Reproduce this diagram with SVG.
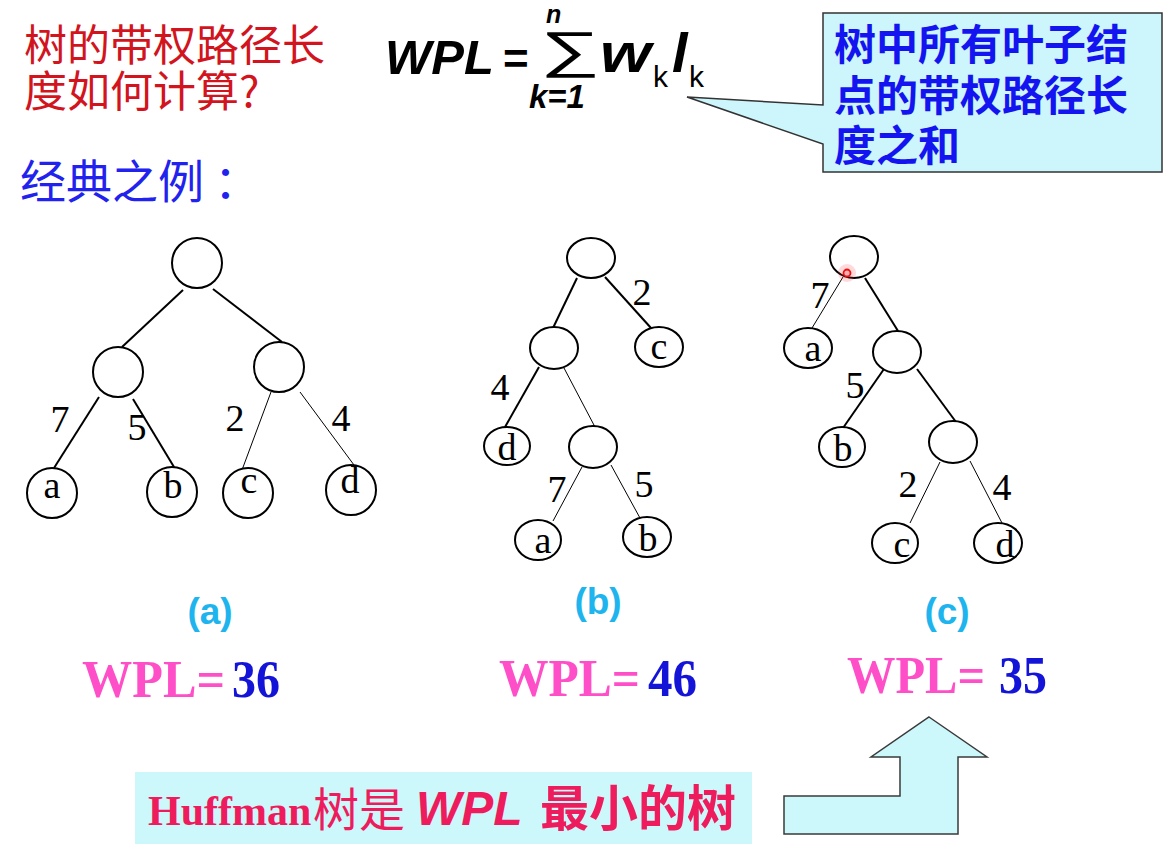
<svg xmlns="http://www.w3.org/2000/svg" width="1174" height="859" viewBox="0 0 1174 859">
<style>
.node{fill:#fff;stroke:#000;stroke-width:2}
.e{stroke:#000;stroke-width:2;fill:none}
.t{stroke:#000;stroke-width:1;fill:none}
.lbl{font-family:"Liberation Serif",serif;font-size:38px;fill:#000;text-anchor:middle}
.cap{font-family:"Liberation Sans",Arial,sans-serif;font-weight:bold;font-size:37px;fill:#1EB4EE;text-anchor:middle}
.wpl{font-family:"Liberation Serif",serif;font-weight:bold;font-size:52px;fill:#FF4FC8}
.num{font-family:"Liberation Serif",serif;font-weight:bold;font-size:52px;fill:#1414D8}
.fx{font-family:"Liberation Sans",Arial,sans-serif;font-weight:bold;font-style:italic;fill:#000}
.cjk{font-family:"Noto Sans CJK SC",sans-serif}
</style>
<rect width="1174" height="859" fill="#fff"/>

<g id="title">
<text class="cjk" x="24" y="61" font-size="43" fill="#D2141E">树的带权路径长</text>
<text class="cjk" x="24" y="107" font-size="43" fill="#D2141E">度如何计算?</text>
</g>
<g id="example-label">
<text class="cjk" x="20" y="198" font-size="46" fill="#2222EE">经典之例<tspan x="214">：</tspan></text>
</g>

<g id="formula">
<text class="fx" x="385" y="74" font-size="49">WPL</text>
<text x="503" y="74" font-family="Liberation Sans,Arial,sans-serif" font-weight="bold" font-size="44" fill="#000">=</text>
<text transform="translate(540,67) scale(1.75,1.05)" x="0" y="0" font-family="Liberation Sans,Arial,sans-serif" font-size="48" fill="#000">∑</text>
<text class="fx" x="546" y="23" font-size="25">n</text>
<text class="fx" x="529" y="108" font-size="33">k=1</text>
<text class="fx" x="600" y="72" font-size="56" textLength="51" lengthAdjust="spacingAndGlyphs">w</text>
<text x="653" y="87" font-family="Liberation Sans,Arial,sans-serif" font-size="30" fill="#000">k</text>
<text class="fx" x="672" y="72" font-size="56">l</text>
<text x="689" y="87" font-family="Liberation Sans,Arial,sans-serif" font-size="30" fill="#000">k</text>
</g>

<g id="callout">
<path d="M823,13 H1162 V172 H823 V144 L687,97 L823,105 Z" fill="#CCF6FB" stroke="#333" stroke-width="1.5"/>
<text class="cjk" x="834" y="60" font-size="42" font-weight="bold" fill="#1414F0">树中所有叶子结</text>
<text class="cjk" x="834" y="111" font-size="42" font-weight="bold" fill="#1414F0">点的带权路径长</text>
<text class="cjk" x="834" y="161" font-size="42" font-weight="bold" fill="#1414F0">度之和</text>
</g>

<g id="connectors">
<line class="e" x1="183" y1="290" x2="122" y2="347"/>
<line class="e" x1="213" y1="289" x2="282" y2="342"/>
<line class="e" x1="99" y1="397" x2="54" y2="468"/>
<line class="e" x1="133" y1="399" x2="174" y2="467"/>
<line class="t" x1="271" y1="392" x2="242" y2="470"/>
<line class="t" x1="300" y1="392" x2="354" y2="465"/>
<line class="e" x1="577" y1="278" x2="553" y2="328"/>
<line class="e" x1="605" y1="277" x2="651" y2="328"/>
<line class="e" x1="539" y1="367" x2="505" y2="427"/>
<line class="t" x1="564" y1="368" x2="595" y2="427"/>
<line class="t" x1="582" y1="467" x2="553" y2="521"/>
<line class="t" x1="611" y1="465" x2="640" y2="518"/>
<line class="t" x1="843" y1="277" x2="812" y2="328"/>
<line class="e" x1="865" y1="278" x2="898" y2="331"/>
<line class="e" x1="884" y1="369" x2="843" y2="428"/>
<line class="e" x1="917" y1="369" x2="956" y2="422"/>
<line class="t" x1="940" y1="462" x2="910" y2="523"/>
<line class="t" x1="970" y1="461" x2="1002" y2="523"/>
</g>

<g id="tree-a">
<g id="a-root"><circle class="node" cx="197" cy="263" r="25"/></g>
<g id="a-left"><circle class="node" cx="118" cy="372" r="25"/></g>
<g id="a-right"><circle class="node" cx="279" cy="367" r="25"/></g>
<g id="a-a"><circle class="node" cx="52" cy="493" r="25"/><text class="lbl" x="52" y="498">a</text></g>
<g id="a-b"><circle class="node" cx="172" cy="492" r="25"/><text class="lbl" x="173" y="498">b</text></g>
<g id="a-c"><circle class="node" cx="248" cy="493" r="25"/><text class="lbl" x="249" y="493">c</text></g>
<g id="a-d"><circle class="node" cx="351" cy="490" r="25"/><text class="lbl" x="350" y="493">d</text></g>
<text class="lbl" x="60" y="432">7</text>
<text class="lbl" x="137" y="440">5</text>
<text class="lbl" x="235" y="431">2</text>
<text class="lbl" x="341" y="431">4</text>
</g>

<g id="tree-b">
<g id="b-root"><ellipse class="node" cx="591" cy="258" rx="24" ry="20"/></g>
<g id="b-left"><ellipse class="node" cx="554" cy="348" rx="24" ry="21"/></g>
<g id="b-c"><ellipse class="node" cx="659" cy="347" rx="24" ry="20"/><text class="lbl" x="659" y="359">c</text></g>
<g id="b-d"><ellipse class="node" cx="507" cy="446" rx="23" ry="19"/><text class="lbl" x="507" y="460">d</text></g>
<g id="b-inner"><ellipse class="node" cx="593" cy="447" rx="24" ry="21"/></g>
<g id="b-a"><ellipse class="node" cx="538" cy="540" rx="23" ry="20"/><text class="lbl" x="543" y="553">a</text></g>
<g id="b-b"><ellipse class="node" cx="647" cy="537" rx="24" ry="20"/><text class="lbl" x="648" y="551">b</text></g>
<text class="lbl" x="642" y="305">2</text>
<text class="lbl" x="500" y="400">4</text>
<text class="lbl" x="557" y="502">7</text>
<text class="lbl" x="644" y="497">5</text>
</g>

<g id="tree-c">
<g id="c-root"><ellipse class="node" cx="854" cy="257" rx="24" ry="21"/></g>
<g id="c-a"><ellipse class="node" cx="808" cy="348" rx="24" ry="20"/><text class="lbl" x="813" y="361">a</text></g>
<g id="c-inner1"><ellipse class="node" cx="897" cy="352" rx="24" ry="21"/></g>
<g id="c-b"><ellipse class="node" cx="842" cy="447" rx="23" ry="20"/><text class="lbl" x="843" y="461">b</text></g>
<g id="c-inner2"><ellipse class="node" cx="953" cy="442" rx="24" ry="21"/></g>
<g id="c-c"><ellipse class="node" cx="895" cy="543" rx="23" ry="20"/><text class="lbl" x="902" y="557">c</text></g>
<g id="c-d"><ellipse class="node" cx="998" cy="543" rx="24" ry="20"/><text class="lbl" x="1005" y="557">d</text></g>
<text class="lbl" x="820" y="308">7</text>
<text class="lbl" x="855" y="398">5</text>
<text class="lbl" x="908" y="497">2</text>
<text class="lbl" x="1002" y="500">4</text>
<circle cx="847" cy="273" r="9" fill="#FF3030" opacity="0.18"/>
<circle cx="847" cy="273" r="3.5" fill="#FFB0B0" stroke="#EE1010" stroke-width="1.8"/>
</g>

<g id="captions">
<text class="cap" x="210" y="624">(a)</text>
<text class="cap" x="598" y="614">(b)</text>
<text class="cap" x="947" y="624">(c)</text>
</g>

<g id="wpl-values">
<text class="wpl" x="82" y="697" textLength="143" lengthAdjust="spacingAndGlyphs">WPL=</text>
<text class="num" x="232" y="697" textLength="48" lengthAdjust="spacingAndGlyphs">36</text>
<text class="wpl" x="499" y="696" textLength="141" lengthAdjust="spacingAndGlyphs">WPL=</text>
<text class="num" x="648" y="696" textLength="49" lengthAdjust="spacingAndGlyphs">46</text>
<text class="wpl" x="847" y="693" textLength="138" lengthAdjust="spacingAndGlyphs">WPL=</text>
<text class="num" x="999" y="693" textLength="48" lengthAdjust="spacingAndGlyphs">35</text>
</g>

<g id="conclusion">
<rect x="135" y="772" width="617" height="72" fill="#CCF7FB"/>
<text x="148" y="825" font-family="Liberation Serif,serif" font-weight="bold" font-size="42" fill="#EE1C5C">Huffman</text>
<text class="cjk" x="313" y="826" font-size="46" fill="#EE1C5C">树是</text>
<text x="416" y="825" font-family="Liberation Sans,Arial,sans-serif" font-weight="bold" font-style="italic" font-size="48" fill="#EE1C5C">WPL</text>
<text class="cjk" x="540" y="826" font-size="49" font-weight="bold" fill="#EE1C5C">最小的树</text>
</g>

<g id="arrow">
<polygon points="929,717 987,757 958,757 958,834 784,834 784,796 900,796 900,757 871,757" fill="#CCF8FC" stroke="#3A3A3A" stroke-width="1.5"/>
</g>
</svg>
